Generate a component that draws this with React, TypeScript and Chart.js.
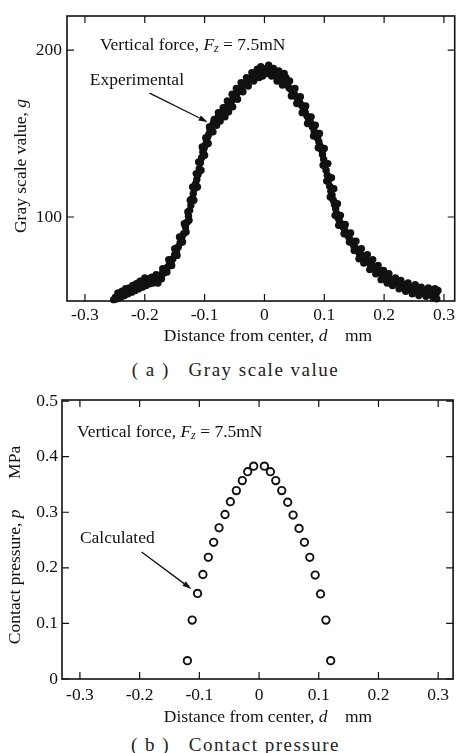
import React, { useEffect, useRef } from 'react';
import { Chart, registerables } from 'chart.js';

Chart.register(...registerables);

const SERIF = "'Liberation Serif', 'Times New Roman', serif";
const INK = '#111111';

// ---- tick values / labels ----
const X_TICKS = [-0.3, -0.2, -0.1, 0, 0.1, 0.2, 0.3];
const X_TICK_LABELS = ['-0.3', '-0.2', '-0.1', '0', '0.1', '0.2', '0.3'];
const G_TICKS = [100, 200];
const G_TICK_LABELS = ['100', '200'];
const P_TICKS = [0, 0.1, 0.2, 0.3, 0.4, 0.5];
const P_TICK_LABELS = ['0', '0.1', '0.2', '0.3', '0.4', '0.5'];

// ---- (a) experimental gray scale values: main trace ----
const EXP_D_A = [
  -0.252, -0.249, -0.246, -0.243, -0.240, -0.237, -0.234, -0.231, -0.228, -0.225,
  -0.222, -0.219, -0.216, -0.213, -0.210, -0.207, -0.204, -0.201, -0.198, -0.195,
  -0.192, -0.189, -0.186, -0.183, -0.180, -0.177, -0.174, -0.171, -0.168, -0.165,
  -0.162, -0.159, -0.156, -0.153, -0.150, -0.147, -0.144, -0.141, -0.138, -0.135,
  -0.132, -0.129, -0.127, -0.125, -0.123, -0.121, -0.119, -0.117, -0.115, -0.113,
  -0.111, -0.109, -0.107, -0.105, -0.103, -0.101, -0.099, -0.097, -0.095, -0.093,
  -0.091, -0.089, -0.087, -0.085, -0.082, -0.079, -0.076, -0.073, -0.070, -0.067,
  -0.064, -0.061, -0.058, -0.055, -0.052, -0.049, -0.046, -0.043, -0.040, -0.037,
  -0.034, -0.031, -0.028, -0.025, -0.022, -0.019, -0.016, -0.013, -0.010, -0.007,
  -0.004, -0.001, 0.002, 0.005, 0.008, 0.011, 0.014, 0.017, 0.020, 0.023,
  0.026, 0.029, 0.032, 0.035, 0.038, 0.041, 0.044, 0.047, 0.050, 0.053,
  0.056, 0.059, 0.062, 0.065, 0.068, 0.071, 0.074, 0.077, 0.080, 0.083,
  0.086, 0.089, 0.091, 0.093, 0.095, 0.097, 0.099, 0.101, 0.103, 0.105,
  0.107, 0.109, 0.111, 0.113, 0.115, 0.117, 0.119, 0.121, 0.123, 0.125,
  0.128, 0.131, 0.134, 0.137, 0.140, 0.143, 0.146, 0.149, 0.152, 0.155,
  0.158, 0.161, 0.164, 0.167, 0.170, 0.173, 0.176, 0.179, 0.182, 0.185,
  0.188, 0.191, 0.194, 0.197, 0.200, 0.203, 0.206, 0.209, 0.212, 0.215,
  0.218, 0.221, 0.224, 0.227, 0.230, 0.233, 0.236, 0.239, 0.242, 0.245,
  0.248, 0.251, 0.254, 0.257, 0.260, 0.263, 0.266, 0.269, 0.272, 0.275,
  0.278, 0.281, 0.284, 0.287, 0.290,
];
const EXP_G_A = [
  50.5, 52, 51, 53.5, 52, 54, 53, 55.5, 54, 56,
  55, 57.5, 56, 58.5, 57, 59.5, 58, 60.5, 59, 61,
  60, 62, 60.5, 63, 62, 64.5, 63.5, 66, 66.5, 68.5,
  70, 71.5, 73.5, 75, 77.5, 79.5, 82, 84.5, 88, 90,
  94, 97, 100.5, 104, 107, 111, 114, 117, 120, 122.5,
  125.5, 129, 132.5, 135.5, 139, 141, 143, 146, 148, 149.5,
  152, 153.5, 155, 156.5, 157, 159, 160.5, 161, 163, 163.5,
  165.5, 166, 168.5, 169.5, 171, 173, 174, 175.5, 177, 178,
  179.5, 180.5, 181.5, 183, 183.5, 185, 185, 186.5, 186, 187.5,
  187, 188.5, 188, 189.5, 187.5, 187, 186, 185.5, 184.5, 184,
  183.5, 182.5, 183, 180.5, 179, 177.5, 176.5, 175, 173.5, 172,
  170, 168.5, 167, 165, 163, 160.5, 158.5, 156.5, 154, 151.5,
  149.5, 147, 145, 142.5, 140.5, 137.5, 134.5, 131, 128, 125,
  122, 118.5, 115.5, 113, 110, 107.5, 105, 102, 99.5, 98,
  96, 94, 92.5, 90, 88.5, 86.5, 85, 83, 81.5, 80,
  78.5, 77.5, 76, 75.5, 74, 73.5, 72, 71.5, 70, 69,
  68.5, 67, 66.5, 65, 64.5, 63.5, 63, 62, 62.5, 61,
  60.5, 61, 59.5, 60, 58.5, 59.5, 58, 58.5, 57, 58,
  56.5, 57.5, 56, 56.5, 55, 56, 54.5, 55.5, 54, 55,
  53.5, 54.5, 53, 54, 56,
];

// ---- (a) experimental gray scale values: points on the lower / inner side ----
const EXP_D_B = [
  -0.238, -0.226, -0.214, -0.205, -0.196, -0.190, -0.178, -0.172, -0.163, -0.155,
  -0.146, -0.137, -0.131, -0.126, -0.118, -0.112, -0.106, -0.100, -0.094, -0.086,
  -0.080, -0.074, -0.066, -0.060, -0.053, -0.045, -0.036, -0.027, -0.018, -0.009,
  -0.003, 0.004, 0.012, 0.021, 0.030, 0.036, 0.045, 0.054, 0.063, 0.072,
  0.082, 0.090, 0.098, 0.104, 0.110, 0.118, 0.124, 0.133, 0.142, 0.150,
  0.158, 0.166, 0.176, 0.186, 0.195, 0.205, 0.214, 0.225, 0.236, 0.247,
  0.258, 0.270, 0.282, 0.288,
];
const EXP_G_B = [
  55.5, 57.5, 60, 61.5, 62.5, 63.5, 60.5, 63, 67, 71,
  77, 85, 91, 98, 110, 118, 128, 137, 144, 151,
  155, 157.5, 160, 163, 166, 170.5, 175, 178.5, 181.5, 183.5,
  184.5, 186, 184.5, 181.5, 179, 183.5, 172.5, 168, 162.5, 156,
  148.5, 141.5, 131, 121.5, 112, 101, 95, 90, 85, 80,
  75, 72.5, 68.5, 66, 62.5, 60.5, 59, 57, 55.5, 54,
  53, 52.5, 51.5, 51,
];

// ---- (a) experimental gray scale values: points on the upper / outer side ----
const EXP_D_C = [
  -0.245, -0.232, -0.220, -0.208, -0.200, -0.188, -0.181, -0.170, -0.160, -0.150,
  -0.142, -0.134, -0.128, -0.124, -0.120, -0.114, -0.110, -0.104, -0.098, -0.092,
  -0.084, -0.077, -0.069, -0.062, -0.054, -0.047, -0.039, -0.030, -0.021, -0.012,
  -0.006, 0.007, 0.015, 0.024, 0.033, 0.042, 0.051, 0.060, 0.069, 0.078,
  0.085, 0.092, 0.100, 0.106, 0.112, 0.116, 0.122, 0.127, 0.135, 0.144,
  0.153, 0.162, 0.172, 0.181, 0.190, 0.199, 0.208, 0.219, 0.228, 0.240,
  0.252, 0.262, 0.274, 0.285,
];
const EXP_G_C = [
  54.5, 57, 59, 61.5, 63.5, 64, 65.5, 69, 74.5, 81,
  88, 96, 103, 110, 118, 126, 133, 142, 147.5, 154,
  158.5, 162.5, 165.5, 169.5, 173.5, 177, 180.5, 183.5, 186.5, 188.5,
  190, 191, 189, 187.5, 186, 181.5, 177, 172, 166.5, 160,
  155, 150, 141, 132, 123.5, 117, 108, 101, 95.5, 90.5,
  85.5, 81, 77.5, 74.5, 71, 68, 66, 63.5, 62, 60.5,
  59.5, 58, 57.5, 57,
];

// ---- (b) calculated contact pressure ----
const CALC_D = [
  -0.120, -0.112, -0.103, -0.094, -0.085, -0.076, -0.067, -0.057, -0.048, -0.038, -0.028, -0.019, -0.009,
  0.009, 0.019, 0.028, 0.038, 0.048, 0.057, 0.067, 0.076, 0.085, 0.094, 0.103, 0.112, 0.120,
];
const CALC_P = [
  0.033, 0.106, 0.154, 0.188, 0.219, 0.246, 0.272, 0.296, 0.319, 0.339, 0.357, 0.373, 0.383,
  0.383, 0.373, 0.357, 0.339, 0.318, 0.295, 0.271, 0.246, 0.219, 0.187, 0.153, 0.106, 0.033,
];

type Run = { t: string; italic?: boolean; size?: number; dy?: number };
type TextItem = { runs: Run[]; x: number; y: number; align: 'left' | 'center'; rotate?: boolean; data?: boolean };
type Overlay = {
  xTicks: number[];
  yTicks: number[];
  texts: TextItem[];
  arrows: { from: [number, number]; to: [number, number] }[];
};

const BASE = 17.5;
const TICK_LEN = 7;

function fontOf(r: Run) {
  return `${r.italic ? 'italic ' : ''}${r.size ?? BASE}px ${SERIF}`;
}

function drawRuns(ctx: CanvasRenderingContext2D, runs: Run[], x: number, y: number, align: 'left' | 'center') {
  let w = 0;
  for (const r of runs) {
    ctx.font = fontOf(r);
    w += ctx.measureText(r.t).width;
  }
  let cx = align === 'center' ? x - w / 2 : x;
  ctx.textAlign = 'left';
  ctx.textBaseline = 'middle';
  for (const r of runs) {
    ctx.font = fontOf(r);
    ctx.fillText(r.t, cx, y + (r.dy ?? 0));
    cx += ctx.measureText(r.t).width;
  }
}

function overlayPlugin(ov: Overlay) {
  return {
    id: 'overlay',
    afterDatasetsDraw(chart: any) {
      const ctx: CanvasRenderingContext2D = chart.ctx;
      const a = chart.chartArea;
      const xs = chart.scales.x;
      const ys = chart.scales.y;
      ctx.save();
      ctx.strokeStyle = INK;
      ctx.fillStyle = INK;
      ctx.lineWidth = 1.6;
      ctx.strokeRect(a.left, a.top, a.right - a.left, a.bottom - a.top);
      ctx.lineWidth = 1.2;
      ctx.beginPath();
      for (const v of ov.xTicks) {
        const px = xs.getPixelForValue(v);
        ctx.moveTo(px, a.bottom);
        ctx.lineTo(px, a.bottom - TICK_LEN);
        ctx.moveTo(px, a.top);
        ctx.lineTo(px, a.top + TICK_LEN);
      }
      for (const v of ov.yTicks) {
        const py = ys.getPixelForValue(v);
        ctx.moveTo(a.left, py);
        ctx.lineTo(a.left + TICK_LEN, py);
        ctx.moveTo(a.right, py);
        ctx.lineTo(a.right - TICK_LEN, py);
      }
      ctx.stroke();

      for (const t of ov.texts) {
        const px = t.data ? xs.getPixelForValue(t.x) : t.x;
        const py = t.data ? ys.getPixelForValue(t.y) : t.y;
        if (t.rotate) {
          ctx.save();
          ctx.translate(px, py);
          ctx.rotate(-Math.PI / 2);
          drawRuns(ctx, t.runs, 0, 0, t.align);
          ctx.restore();
        } else {
          drawRuns(ctx, t.runs, px, py, t.align);
        }
      }

      for (const ar of ov.arrows) {
        const x1 = xs.getPixelForValue(ar.from[0]);
        const y1 = ys.getPixelForValue(ar.from[1]);
        const x2 = xs.getPixelForValue(ar.to[0]);
        const y2 = ys.getPixelForValue(ar.to[1]);
        const ang = Math.atan2(y2 - y1, x2 - x1);
        const hl = 9;
        const hw = 2.8;
        ctx.lineWidth = 1.3;
        ctx.beginPath();
        ctx.moveTo(x1, y1);
        ctx.lineTo(x2 - hl * Math.cos(ang), y2 - hl * Math.sin(ang));
        ctx.stroke();
        ctx.beginPath();
        ctx.moveTo(x2, y2);
        ctx.lineTo(x2 - hl * Math.cos(ang) + hw * Math.sin(ang), y2 - hl * Math.sin(ang) - hw * Math.cos(ang));
        ctx.lineTo(x2 - hl * Math.cos(ang) - hw * Math.sin(ang), y2 - hl * Math.sin(ang) + hw * Math.cos(ang));
        ctx.closePath();
        ctx.fill();
      }
      ctx.restore();
    },
  };
}

function axis(min: number, max: number, ticks: number[], labels: string[], size: number, isX: boolean, pad: number) {
  return {
    type: 'linear' as const,
    min,
    max,
    afterBuildTicks: (s: any) => {
      s.ticks = ticks.map((v) => ({ value: v }));
    },
    afterFit: (s: any) => {
      if (isX) s.height = size;
      else s.width = size;
    },
    grid: { display: false, drawTicks: false },
    border: { display: false },
    ticks: {
      autoSkip: false,
      maxRotation: 0,
      padding: pad,
      color: INK,
      font: { family: SERIF, size: 17.5 },
      callback: (_v: any, i: number) => labels[i],
    },
  };
}

const forceRuns: Run[] = [
  { t: 'Vertical force, ' },
  { t: 'F', italic: true },
  { t: 'z', italic: true, size: 12, dy: 4 },
  { t: ' = 7.5mN' },
];
const distRuns: Run[] = [{ t: 'Distance from center, ' }, { t: 'd', italic: true }, { t: '    mm' }];

export default function App() {
  const topRef = useRef<HTMLCanvasElement>(null);
  const botRef = useRef<HTMLCanvasElement>(null);

  useEffect(() => {
    const common = {
      animation: false as const,
      responsive: false,
      maintainAspectRatio: false,
      devicePixelRatio: 1,
      events: [] as any[],
      plugins: { legend: { display: false }, tooltip: { enabled: false } },
    };

    const expPoints = [
      ...EXP_D_A.map((d, i) => ({ x: d, y: EXP_G_A[i] })),
      ...EXP_D_B.map((d, i) => ({ x: d, y: EXP_G_B[i] })),
      ...EXP_D_C.map((d, i) => ({ x: d, y: EXP_G_C[i] })),
    ];

    const top = new Chart(topRef.current as HTMLCanvasElement, {
      type: 'scatter',
      data: {
        datasets: [
          {
            data: expPoints,
            pointRadius: 3.7,
            pointBackgroundColor: INK,
            pointBorderColor: INK,
            pointBorderWidth: 0,
            clip: false as any,
          },
        ],
      },
      options: {
        ...common,
        layout: { padding: { top: 16, right: 3, left: 0, bottom: 0 } },
        scales: {
          x: axis(-0.33, 0.318, X_TICKS, X_TICK_LABELS, 49, true, 4),
          y: axis(49.7, 220.4, G_TICKS, G_TICK_LABELS, 67, false, 5),
        },
      } as any,
      plugins: [
        overlayPlugin({
          xTicks: X_TICKS,
          yTicks: G_TICKS,
          texts: [
            { runs: forceRuns, x: -0.275, y: 203, align: 'left', data: true },
            { runs: [{ t: 'Experimental' }], x: -0.292, y: 182, align: 'left', data: true },
            { runs: distRuns, x: 268, y: 336, align: 'center' },
            { runs: [{ t: 'Gray scale value, ' }, { t: 'g', italic: true }], x: 21, y: 166, align: 'center', rotate: true },
          ],
          arrows: [{ from: [-0.192, 174.2], to: [-0.095, 156.9] }],
        }) as any,
      ],
    });

    const bot = new Chart(botRef.current as HTMLCanvasElement, {
      type: 'scatter',
      data: {
        datasets: [
          {
            data: CALC_D.map((d, i) => ({ x: d, y: CALC_P[i] })),
            pointRadius: 3.7,
            pointBackgroundColor: '#ffffff',
            pointBorderColor: INK,
            pointBorderWidth: 1.9,
            clip: false as any,
          },
        ],
      },
      options: {
        ...common,
        layout: { padding: { top: 20, right: 4, left: 0, bottom: 0 } },
        scales: {
          x: axis(-0.33, 0.325, X_TICKS, X_TICK_LABELS, 51, true, 6),
          y: axis(0, 0.502, P_TICKS, P_TICK_LABELS, 62, false, 4),
        },
      } as any,
      plugins: [
        overlayPlugin({
          xTicks: X_TICKS,
          yTicks: P_TICKS,
          texts: [
            { runs: forceRuns, x: -0.305, y: 0.444, align: 'left', data: true },
            { runs: [{ t: 'Calculated' }], x: -0.3, y: 0.2536, align: 'left', data: true },
            { runs: distRuns, x: 268, y: 337, align: 'center' },
            {
              runs: [{ t: 'Contact pressure, ' }, { t: 'p', italic: true }, { t: '       MPa' }],
              x: 15,
              y: 165,
              align: 'center',
              rotate: true,
            },
          ],
          arrows: [{ from: [-0.1967, 0.2284], to: [-0.1133, 0.162] }],
        }) as any,
      ],
    });

    return () => {
      top.destroy();
      bot.destroy();
    };
  }, []);

  const captionStyle: React.CSSProperties = {
    position: 'absolute',
    left: 6,
    width: 459,
    textAlign: 'center',
    fontFamily: SERIF,
    fontSize: 19,
    lineHeight: '22px',
    letterSpacing: '1.5px',
    whiteSpace: 'pre',
    color: '#222',
  };

  return (
    <div style={{ position: 'fixed', left: 0, top: 0, width: 459, height: 753, background: '#fff', overflow: 'hidden' }}>
      <canvas ref={topRef} width={459} height={350} style={{ position: 'absolute', left: 0, top: 0, width: 459, height: 350 }} />
      <div style={{ ...captionStyle, top: 359 }}>( a )   Gray scale value</div>
      <canvas ref={botRef} width={459} height={350} style={{ position: 'absolute', left: 0, top: 380, width: 459, height: 350 }} />
      <div style={{ ...captionStyle, top: 734 }}>( b )   Contact pressure</div>
    </div>
  );
}
